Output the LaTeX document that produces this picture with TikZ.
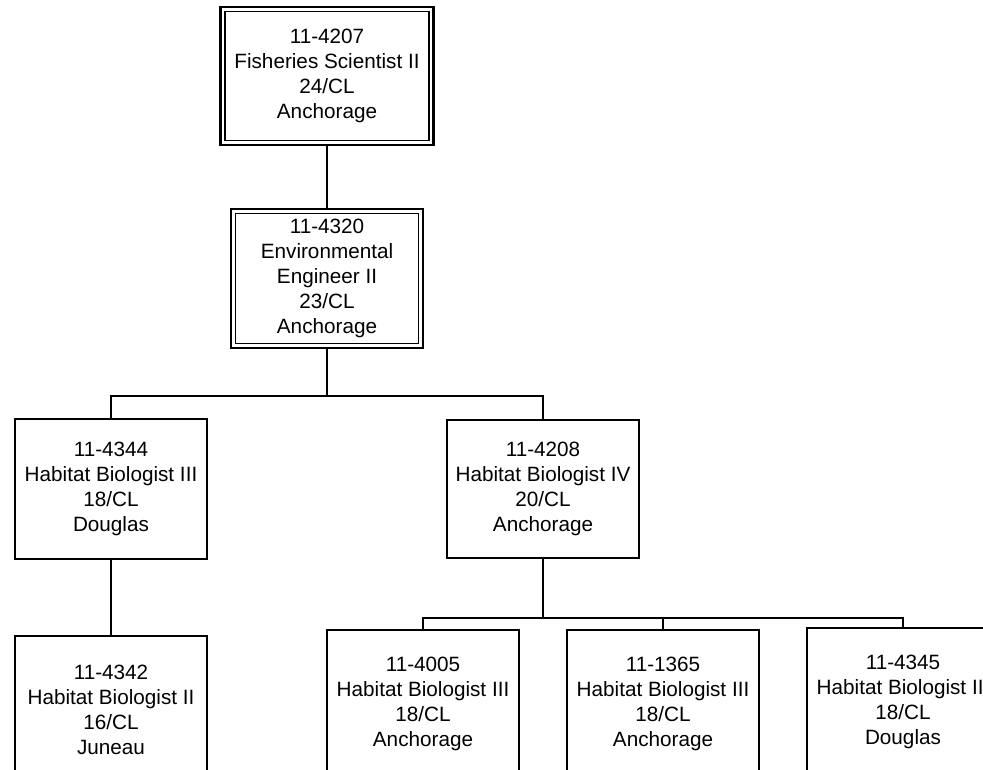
\documentclass[tikz,border=0pt]{standalone}
\usepackage{fontspec}
\setmainfont{Liberation Sans}
\usetikzlibrary{calc}
\begin{document}
\begin{tikzpicture}[x=1pt,y=-1pt,
  txt/.style={font=\fontsize{20.7}{24.8}\selectfont, align=center, inner sep=0pt, outer sep=0pt},
  pbox/.style={txt, draw, line width=1.7pt, minimum width=192pt, minimum height=140pt},
  lowbox/.style={pbox, minimum height=148pt},
  dbox/.style={txt, draw, line width=2.4pt},
  inner/.style={line width=1.3pt},
  conn/.style={line width=2.8pt}]
\useasboundingbox (0,0) rectangle (983,770);
\clip (0,0) rectangle (983,770);
\fill[white] (0,0) rectangle (983,770);

\node[dbox, minimum width=213pt, minimum height=138pt] (t) at (327,76) {11-4207\\Fisheries Scientist II\\24/CL\\Anchorage};
\draw[inner] ($(t.north west)+(4.5pt,-4.5pt)$) rectangle ($(t.south east)+(-4.5pt,4.5pt)$);

\node[dbox, minimum width=192pt, minimum height=139pt] (e) at (327,278.5) {11-4320\\Environmental\\Engineer II\\23/CL\\Anchorage};
\draw[inner] ($(e.north west)+(4.5pt,-4.5pt)$) rectangle ($(e.south east)+(-4.5pt,4.5pt)$);

\node[pbox] (h1) at (111,489) {11-4344\\Habitat Biologist III\\18/CL\\Douglas};
\node[pbox, minimum height=138pt] (h2) at (543,489) {11-4208\\Habitat Biologist IV\\20/CL\\Anchorage};
\node[lowbox] (j) at (111,710) {11-4342\\Habitat Biologist II\\16/CL\\Juneau};
\node[lowbox] (a1) at (423,704) {11-4005\\Habitat Biologist III\\18/CL\\Anchorage};
\node[lowbox] (a2) at (663,704) {11-1365\\Habitat Biologist III\\18/CL\\Anchorage};
\node[lowbox] (d) at (903,702) {11-4345\\Habitat Biologist III\\18/CL\\Douglas};

\coordinate (b1) at (327,396);
\coordinate (b2) at (543,618);

\draw[conn] (t.south) -- (e.north);
\draw[conn] (e.south) -- (b1);
\draw[conn] (h1.north) |- (b1) -| (h2.north);
\draw[conn] (h1.south) -- (j.north);
\draw[conn] (h2.south) -- (b2);
\draw[conn] (a1.north) |- (b2) -| (d.north);
\draw[conn] (a2.north) -- (a2.north |- b2);
\end{tikzpicture}
\end{document}
